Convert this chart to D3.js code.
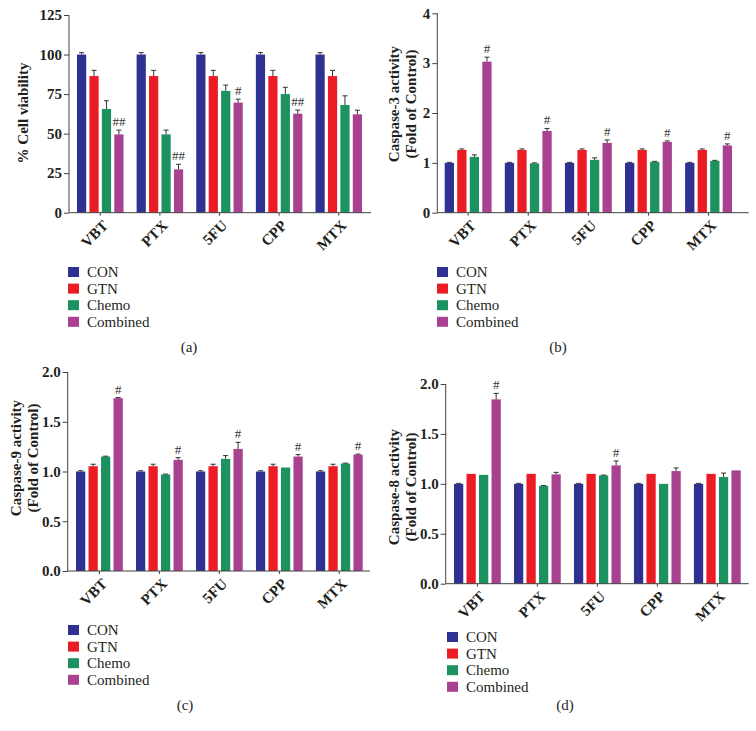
<!DOCTYPE html>
<html>
<head>
<meta charset="utf-8">
<script src="https://cdn.jsdelivr.net/npm/d3@7"></script>
<style>
  body { margin: 0; background: #fff; }
  svg { display: block; font-family: 'Liberation Serif', 'Times New Roman', serif; }
</style>
</head>
<body>
<svg id="chart" width="756" height="731"></svg>
<script>
const drugs = ['VBT', 'PTX', '5FU', 'CPP', 'MTX'];
const groups = ['CON', 'GTN', 'Chemo', 'Combined'];
const colors = ['#2e3192', '#ec1c24', '#1c9260', '#a8418f'];

// rows = drugs, columns = groups (CON, GTN, Chemo, Combined)
const viabilityMean = [[100, 86.4, 65.6, 49.5], [100, 86.4, 49.5, 27.4], [100, 86.4, 77, 69.6], [100, 86.4, 75, 62.6], [100, 86.4, 68.1, 62.2]];
const viabilityErr = [[1.2, 3.6, 5.2, 2.7], [1.2, 3.6, 2.7, 3.2], [1.2, 3.6, 3.7, 2.2], [1.2, 3.6, 4.3, 2.3], [1.2, 3.6, 5.8, 2.6]];
const viabilityMarks = ['##', '##', '#', '##', ''];

const casp3Mean = [[1, 1.26, 1.12, 3.03], [1, 1.26, 0.99, 1.64], [1, 1.26, 1.06, 1.4], [1, 1.26, 1.02, 1.42], [1, 1.26, 1.04, 1.35]];
const casp3Err = [[0.01, 0.02, 0.04, 0.09], [0.01, 0.02, 0.01, 0.05], [0.01, 0.02, 0.04, 0.06], [0.01, 0.02, 0.01, 0.02], [0.01, 0.02, 0.01, 0.03]];
const casp3Marks = ['#', '#', '#', '#', '#'];

const casp9Mean = [[1, 1.053, 1.15, 1.737], [1, 1.053, 0.97, 1.117], [1, 1.053, 1.127, 1.227], [1, 1.053, 1.04, 1.15], [1, 1.053, 1.08, 1.17]];
const casp9Err = [[0.008, 0.02, 0.004, 0.006], [0.008, 0.02, 0.004, 0.022], [0.008, 0.02, 0.033, 0.066], [0.008, 0.02, 0, 0.02], [0.008, 0.02, 0.004, 0.005]];
const casp9Marks = ['#', '#', '#', '#', '#'];

const casp8Mean = [[1, 1.1, 1.09, 1.846], [1, 1.1, 0.98, 1.095], [1, 1.1, 1.085, 1.185], [1, 1.1, 1.0, 1.128], [1, 1.1, 1.068, 1.135]];
const casp8Err = [[0.005, 0, 0, 0.06], [0.005, 0, 0.003, 0.02], [0.005, 0, 0.003, 0.044], [0.005, 0, 0, 0.031], [0.005, 0, 0.04, 0]];
const casp8Marks = ['#', '', '#', '', ''];

const viabilityTicks = [0, 25, 50, 75, 100, 125];
const casp3Ticks = [0, 1, 2, 3, 4];
const casp9Ticks = [0, 0.5, 1.0, 1.5, 2.0];
const casp8Ticks = [0, 0.5, 1.0, 1.5, 2.0];

const panels = [
  { mean: viabilityMean, err: viabilityErr, marks: viabilityMarks, ticks: viabilityTicks, fmt: d3.format('d'),
    left: 69, right: 371, barStart: 77, barEnd: 362, yTop: 15, yBottom: 212.7,
    title: ['% Cell viability'], titleX: [23], titleY: 113,
    legendX: 68, legendY: 272, letter: '(a)', letterX: 189, letterY: 347 },
  { mean: casp3Mean, err: casp3Err, marks: casp3Marks, ticks: casp3Ticks, fmt: d3.format('d'),
    left: 437.3, right: 748.7, barStart: 444.7, barEnd: 732, yTop: 13.3, yBottom: 212.7,
    title: ['Caspase-3 activity', '(Fold of Control)'], titleX: [394, 410.5], titleY: 104,
    legendX: 437, legendY: 272, letter: '(b)', letterX: 558, letterY: 347 },
  { mean: casp9Mean, err: casp9Err, marks: casp9Marks, ticks: casp9Ticks, fmt: d3.format('.1f'),
    left: 67.7, right: 370, barStart: 76, barEnd: 362.7, yTop: 372, yBottom: 571,
    title: ['Caspase-9 activity', '(Fold of Control)'], titleX: [16, 32.5], titleY: 458,
    legendX: 68, legendY: 630, letter: '(c)', letterX: 185, letterY: 705 },
  { mean: casp8Mean, err: casp8Err, marks: casp8Marks, ticks: casp8Ticks, fmt: d3.format('.1f'),
    left: 445.7, right: 748.7, barStart: 454, barEnd: 740.7, yTop: 384, yBottom: 583.7,
    title: ['Caspase-8 activity', '(Fold of Control)'], titleX: [394, 410.5], titleY: 487,
    legendX: 447, legendY: 637, letter: '(d)', letterX: 565, letterY: 705 }
];

const svg = d3.select('#chart');
svg.append('rect').attr('width', 756).attr('height', 731).attr('fill', '#fff');

const axisColor = '#404040';
const textColor = '#231f20';

panels.forEach((p) => {
  const g = svg.append('g');

  const x0 = d3.scaleBand().domain(drugs).range([p.barStart, p.barEnd]).paddingInner(0.22).paddingOuter(0);
  const x1 = d3.scaleBand().domain(groups).range([0, x0.bandwidth()]).paddingInner(0.26).paddingOuter(0);
  const y = d3.scaleLinear().domain([0, d3.max(p.ticks)]).range([p.yBottom, p.yTop]);

  // bars
  const rows = g.selectAll('g.drug').data(drugs).join('g').attr('class', 'drug')
    .attr('transform', (d) => `translate(${x0(d)},0)`);

  rows.selectAll('rect')
    .data((d, i) => groups.map((grp, j) => ({ grp, j, v: p.mean[i][j], e: p.err[i][j] })))
    .join('rect')
    .attr('x', (d) => x1(d.grp))
    .attr('y', (d) => y(d.v))
    .attr('width', x1.bandwidth())
    .attr('height', (d) => y(0) - y(d.v))
    .attr('fill', (d) => colors[d.j]);

  // error bars (upper only)
  const errs = rows.selectAll('g.err')
    .data((d, i) => groups.map((grp, j) => ({ grp, v: p.mean[i][j], e: p.err[i][j] })).filter((d) => d.e > 0))
    .join('g').attr('class', 'err')
    .attr('stroke', '#333').attr('stroke-width', 1);
  errs.append('line')
    .attr('x1', (d) => x1(d.grp) + x1.bandwidth() / 2)
    .attr('x2', (d) => x1(d.grp) + x1.bandwidth() / 2)
    .attr('y1', (d) => y(d.v))
    .attr('y2', (d) => y(d.v + d.e));
  errs.append('line')
    .attr('x1', (d) => x1(d.grp) + x1.bandwidth() / 2 - 2.5)
    .attr('x2', (d) => x1(d.grp) + x1.bandwidth() / 2 + 2.5)
    .attr('y1', (d) => y(d.v + d.e))
    .attr('y2', (d) => y(d.v + d.e));

  // significance marks above Combined
  rows.append('text')
    .attr('x', x1('Combined') + x1.bandwidth() / 2)
    .attr('y', (d, i) => y(p.mean[i][3] + p.err[i][3]) - 4)
    .attr('text-anchor', 'middle')
    .attr('font-size', 13)
    .attr('fill', '#333')
    .text((d, i) => p.marks[i]);

  // y axis
  const yAxis = d3.axisLeft(y).tickValues(p.ticks).tickFormat(p.fmt).tickSize(5).tickPadding(2);
  const ya = g.append('g').attr('transform', `translate(${p.left},0)`).call(yAxis);
  ya.select('.domain').attr('d', `M0,${p.yBottom}V${p.yTop}`);
  ya.selectAll('.domain, .tick line').attr('stroke', axisColor);
  ya.selectAll('.tick text')
    .attr('font-family', "'Liberation Serif', serif")
    .attr('font-size', 15)
    .attr('font-weight', 'bold')
    .attr('fill', textColor);

  // x axis
  const xa = g.append('g').attr('transform', `translate(0,${p.yBottom})`);
  xa.append('line').attr('x1', p.left).attr('x2', p.right).attr('y1', 0).attr('y2', 0)
    .attr('stroke', axisColor);
  xa.selectAll('line.tick').data(drugs).join('line').attr('class', 'tick')
    .attr('x1', (d) => x0(d) + x0.bandwidth() / 2)
    .attr('x2', (d) => x0(d) + x0.bandwidth() / 2)
    .attr('y1', 0).attr('y2', 3)
    .attr('stroke', axisColor);
  xa.selectAll('text').data(drugs).join('text')
    .attr('transform', (d) => `translate(${x0(d) + x0.bandwidth() / 2 + 5},${10}) rotate(-45)`)
    .attr('text-anchor', 'end')
    .attr('dy', '0.35em')
    .attr('font-size', 15)
    .attr('font-weight', 'bold')
    .attr('fill', textColor)
    .text((d) => d);

  // y title
  p.title.forEach((t, k) => {
    g.append('text')
      .attr('transform', `translate(${p.titleX[k]},${p.titleY}) rotate(-90)`)
      .attr('text-anchor', 'middle')
      .attr('dominant-baseline', 'central')
      .attr('font-size', 15)
      .attr('font-weight', 'bold')
      .attr('fill', textColor)
      .text(t);
  });

  // legend
  const leg = g.selectAll('g.leg').data(groups).join('g').attr('class', 'leg')
    .attr('transform', (d, i) => `translate(${p.legendX},${p.legendY + i * 16.6})`);
  leg.append('rect').attr('x', 0).attr('y', -5).attr('width', 11).attr('height', 10)
    .attr('fill', (d, i) => colors[i]);
  leg.append('text').attr('x', 19).attr('y', 0).attr('dy', '0.33em')
    .attr('font-size', 15).attr('fill', textColor).text((d) => d);

  g.append('text')
    .attr('x', p.letterX).attr('y', p.letterY).attr('dy', '0.33em')
    .attr('text-anchor', 'middle')
    .attr('font-size', 15).attr('fill', textColor)
    .text(p.letter);
});
</script>
</body>
</html>
